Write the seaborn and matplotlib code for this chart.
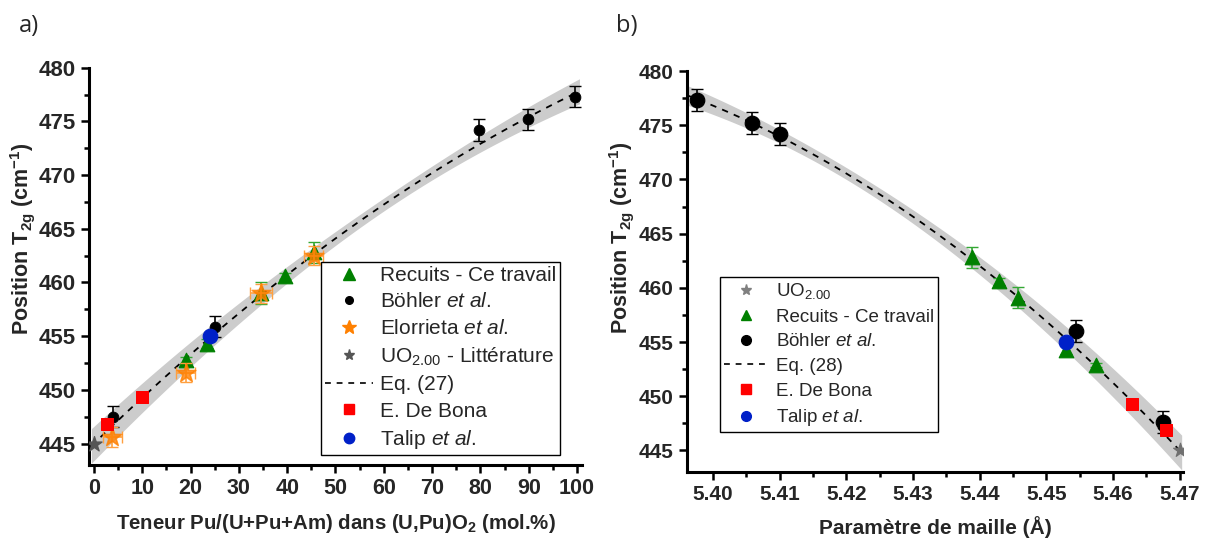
import numpy as np
import matplotlib
matplotlib.use("Agg")
import matplotlib.pyplot as plt
from matplotlib.lines import Line2D
from matplotlib.ticker import MultipleLocator
import seaborn as sns

# ---- data ----
# a) Pu content (mol.%) vs T2g position (cm-1)
rec_pu = [19.0, 23.5, 34.6, 39.5, 45.5]
rec_t2g = [452.8, 454.3, 459.0, 460.6, 462.8]
rec_err = [0.3, 0.4, 1.0, 0.3, 1.0]

boh_pu = [4.0, 25.1, 79.8, 89.8, 99.6]
boh_t2g = [447.5, 455.9, 474.2, 475.2, 477.3]
boh_err = [1.0, 1.0, 1.0, 1.0, 1.0]

elo_pu = [3.8, 19.0, 34.6, 45.5]
elo_t2g = [445.6, 451.6, 459.0, 462.5]
elo_xerr = [2.0, 2.0, 2.2, 2.0]
elo_yerr = [0.9, 0.9, 0.9, 0.9]

uo2_pu = [0.0]
uo2_t2g = [445.0]

dbona_pu = [2.7, 10.0]
dbona_t2g = [446.8, 449.3]

talip_pu = [24.1]
talip_t2g = [455.0]

# b) lattice parameter (A) vs T2g position
rec_a = [5.4574, 5.4530, 5.4457, 5.4429, 5.4389]
rec_t2g_b = [452.9, 454.3, 459.1, 460.6, 462.8]
rec_err_b = [0.2, 0.4, 1.0, 0.3, 1.0]

boh_a = [5.4675, 5.4545, 5.4100, 5.4059, 5.3976]
boh_t2g_b = [447.6, 456.0, 474.2, 475.2, 477.3]

uo2_a = [5.470]
dbona_a = [5.4629, 5.4680]
dbona_t2g_b = [449.3, 446.9]
talip_a = [5.4530]

# fitted equations (27) and (28)
eq27 = [445.0, 0.437, -0.0011]          # T = c0 + c1*x + c2*x^2
eq28 = [445.0, 652.2, -2826.0]          # T = c0 + c1*u + c2*u^2, u = 5.47 - a
band27 = [0.36, 0.00061, 60.0]          # half width = sqrt(b0 + b1*(x-xc)^2)
band28 = [0.30, 900.0, 0.05]

sns.set_theme(style="ticks")
plt.rcParams['font.family'] = ['Liberation Sans', 'DejaVu Sans']
plt.rcParams['mathtext.default'] = 'regular'
plt.rcParams['mathtext.fontset'] = 'custom'
plt.rcParams['mathtext.it'] = 'Liberation Sans:italic'
plt.rcParams['mathtext.rm'] = 'Liberation Sans'
plt.rcParams['mathtext.bf'] = 'Liberation Sans:bold'

GREEN = '#008000'
GREEN_E = '#33a833'
ORANGE = '#ff8000'
ORANGE_E = '#ffa040'
RED = '#ff0000'
BLUE = '#0020c8'
BAND = '#cccccc'

fig = plt.figure(figsize=(12.08, 5.42), dpi=100)
ax1 = fig.add_axes([0.0737, 0.142, 0.408, 0.733])
ax2 = fig.add_axes([0.5687, 0.129, 0.4106, 0.740])


def style_axis(ax, xmaj, xmin, ysize):
    for s in ['top', 'right']:
        ax.spines[s].set_visible(False)
    for s in ['left', 'bottom']:
        ax.spines[s].set_linewidth(2.2)
        ax.spines[s].set_color('black')
    ax.xaxis.set_major_locator(MultipleLocator(xmaj))
    ax.xaxis.set_minor_locator(MultipleLocator(xmin))
    ax.yaxis.set_major_locator(MultipleLocator(5))
    ax.yaxis.set_minor_locator(MultipleLocator(2.5))
    ax.tick_params(which='major', direction='out', length=6, width=1.8, color='black')
    ax.tick_params(which='minor', direction='out', length=3.5, width=1.8, color='black')
    ax.set_ylim(443, 480)
    for lab in ax.get_yticklabels():
        lab.set_fontweight('bold')
        lab.set_fontsize(ysize)
    ax.grid(False)


# ---------------- panel a ----------------
x27 = np.linspace(-0.5, 100.5, 300)
y27 = eq27[0] + eq27[1] * x27 + eq27[2] * x27 ** 2
h27 = np.sqrt(band27[0] + band27[1] * (x27 - band27[2]) ** 2)
ax1.fill_between(x27, y27 - h27, y27 + h27, color=BAND, lw=0, zorder=1)
sns.lineplot(x=x27, y=y27, ax=ax1, color='black', lw=1.3, zorder=2)
ax1.lines[-1].set_dashes((3.5, 3.5))

ax1.errorbar(rec_pu, rec_t2g, yerr=rec_err, fmt='none', ecolor=GREEN_E, capsize=4, elinewidth=1.2, zorder=3)
sns.scatterplot(x=rec_pu, y=rec_t2g, ax=ax1, marker='^', s=110, color=GREEN, edgecolor=GREEN, zorder=4)
ax1.errorbar(boh_pu, boh_t2g, yerr=boh_err, fmt='none', ecolor='black', capsize=4, elinewidth=1.2, zorder=3)
sns.scatterplot(x=boh_pu, y=boh_t2g, ax=ax1, marker='o', s=60, color='black', edgecolor='black', zorder=4)
ax1.errorbar(elo_pu, elo_t2g, xerr=elo_xerr, yerr=elo_yerr, fmt='none', ecolor=ORANGE_E, capsize=4, elinewidth=1.2, zorder=5)
sns.scatterplot(x=elo_pu, y=elo_t2g, ax=ax1, marker='*', s=200, color=ORANGE, edgecolor=ORANGE, alpha=0.8, zorder=6)
sns.scatterplot(x=uo2_pu, y=uo2_t2g, ax=ax1, marker='*', s=130, color='#555555', edgecolor='#555555', zorder=6)
sns.scatterplot(x=dbona_pu, y=dbona_t2g, ax=ax1, marker='s', s=80, color=RED, edgecolor=RED, zorder=6)
sns.scatterplot(x=talip_pu, y=talip_t2g, ax=ax1, marker='o', s=110, color=BLUE, edgecolor=BLUE, zorder=6)

style_axis(ax1, 10, 5, 16)
ax1.set_xlim(-1, 101)
for lab in ax1.get_xticklabels():
    lab.set_fontweight('bold')
    lab.set_fontsize(15.5)
ax1.set_xlabel('Teneur Pu/(U+Pu+Am) dans (U,Pu)O$_2$ (mol.%)', fontsize=14.7, fontweight='bold')
ax1.set_ylabel('Position T$_{2g}$ (cm$^{-1}$)', fontsize=15.5, fontweight='bold')
ax1.xaxis.set_label_coords(0.5, -0.118)
ax1.yaxis.set_label_coords(-0.105, 0.57)

h_a = [
    Line2D([], [], ls='none', marker='^', ms=8, color=GREEN),
    Line2D([], [], ls='none', marker='o', ms=5.5, color='black'),
    Line2D([], [], ls='none', marker='*', ms=10, color=ORANGE),
    Line2D([], [], ls='none', marker='*', ms=8, color='#555555'),
    Line2D([], [], ls=(0, (3.5, 3.5)), lw=1.2, color='black'),
    Line2D([], [], ls='none', marker='s', ms=7, color=RED),
    Line2D([], [], ls='none', marker='o', ms=7.5, color=BLUE),
]
l_a = ['Recuits - Ce travail', 'Böhler $\\it{et\\ al.}$', 'Elorrieta $\\it{et\\ al.}$',
       'UO$_{2.00}$ - Littérature', 'Eq. (27)', 'E. De Bona', 'Talip $\\it{et\\ al.}$']
leg = ax1.legend(h_a, l_a, loc='upper left', bbox_to_anchor=(0.47, 0.512), fontsize=15,
                 frameon=True, fancybox=False, framealpha=1, edgecolor='black',
                 handlelength=2.3, handletextpad=0.35, borderpad=0.2, labelspacing=0.36,
                 borderaxespad=0)
leg.get_frame().set_linewidth(1.0)

# ---------------- panel b ----------------
a28 = np.linspace(5.3961, 5.4703, 300)
u28 = 5.47 - a28
y28 = eq28[0] + eq28[1] * u28 + eq28[2] * u28 ** 2
h28 = np.sqrt(band28[0] + band28[1] * (u28 - band28[2]) ** 2)
ax2.fill_between(a28, y28 - h28, y28 + h28, color=BAND, lw=0, zorder=1)
sns.lineplot(x=a28, y=y28, ax=ax2, color='black', lw=1.3, zorder=2)
ax2.lines[-1].set_dashes((3.5, 3.5))

ax2.errorbar(rec_a, rec_t2g_b, yerr=rec_err_b, fmt='none', ecolor=GREEN_E, capsize=4, elinewidth=1.2, zorder=3)
sns.scatterplot(x=rec_a, y=rec_t2g_b, ax=ax2, marker='^', s=110, color=GREEN, edgecolor=GREEN, zorder=4)
ax2.errorbar(boh_a, boh_t2g_b, yerr=boh_err, fmt='none', ecolor='black', capsize=4, elinewidth=1.2, zorder=3)
sns.scatterplot(x=boh_a, y=boh_t2g_b, ax=ax2, marker='o', s=110, color='black', edgecolor='black', zorder=4)
sns.scatterplot(x=uo2_a, y=uo2_t2g, ax=ax2, marker='*', s=110, color='#707070', edgecolor='#707070', zorder=6)
sns.scatterplot(x=dbona_a, y=dbona_t2g_b, ax=ax2, marker='s', s=80, color=RED, edgecolor=RED, zorder=6)
sns.scatterplot(x=talip_a, y=talip_t2g, ax=ax2, marker='o', s=110, color=BLUE, edgecolor=BLUE, zorder=6)

style_axis(ax2, 0.01, 0.005, 15)
ax2.set_xlim(5.3961, 5.4705)
ax2.set_xticks([5.40, 5.41, 5.42, 5.43, 5.44, 5.45, 5.46, 5.47])
ax2.set_xticklabels(['5.40', '5.41', '5.42', '5.43', '5.44', '5.45', '5.46', '5.47'])
for lab in ax2.get_xticklabels():
    lab.set_fontweight('bold')
    lab.set_fontsize(15)
ax2.set_xlabel('Paramètre de maille (Å)', fontsize=15, fontweight='bold')
ax2.set_ylabel('Position T$_{2g}$ (cm$^{-1}$)', fontsize=15.5, fontweight='bold')
ax2.xaxis.set_label_coords(0.5, -0.11)
ax2.yaxis.set_label_coords(-0.102, 0.585)

h_b = [
    Line2D([], [], ls='none', marker='*', ms=8, color='#808080'),
    Line2D([], [], ls='none', marker='^', ms=7.5, color=GREEN),
    Line2D([], [], ls='none', marker='o', ms=7, color='black'),
    Line2D([], [], ls=(0, (3.5, 3.5)), lw=1.2, color='black'),
    Line2D([], [], ls='none', marker='s', ms=6.5, color=RED),
    Line2D([], [], ls='none', marker='o', ms=7, color=BLUE),
]
l_b = ['UO$_{2.00}$', 'Recuits - Ce travail', 'Böhler $\\it{et\\ al.}$', 'Eq. (28)',
       'E. De Bona', 'Talip $\\it{et\\ al.}$']
leg2 = ax2.legend(h_b, l_b, loc='upper left', bbox_to_anchor=(0.0665, 0.4855), fontsize=13.5,
                  frameon=True, fancybox=False, framealpha=1, edgecolor='black',
                  handlelength=2.4, handletextpad=0.4, borderpad=0.2, labelspacing=0.4,
                  borderaxespad=0)
leg2.get_frame().set_linewidth(1.0)

fig.text(0.016, 0.975, 'a)', fontsize=17, va='top', family=['Open Sans', 'DejaVu Sans'])
fig.text(0.51, 0.975, 'b)', fontsize=17, va='top', family=['Open Sans', 'DejaVu Sans'])

fig.savefig('out.png', dpi=100)
